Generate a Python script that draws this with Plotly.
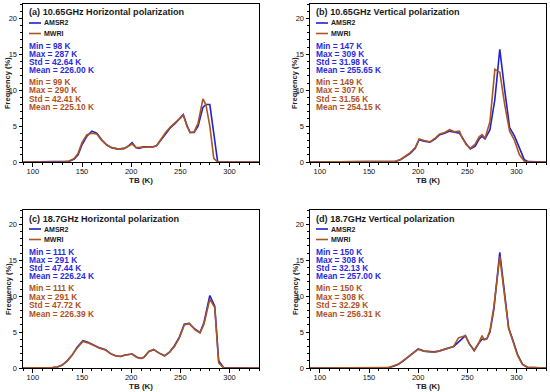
import plotly.graph_objects as go

# ---------------- data ----------------
tb_a = [90, 130, 137, 142, 146, 150, 155, 160, 165, 170, 175, 180, 187, 193, 197, 201, 205, 208, 212,
        217, 222, 226, 230, 235, 240, 245, 249, 253, 257, 260, 264, 268, 273, 276, 280, 284, 288, 330]
amsr2_a = [0, 0, 0.1, 0.4, 1.0, 2.4, 3.6, 4.3, 4.0, 3.1, 2.4, 2.0, 1.8, 1.9, 2.2, 2.7, 2.0, 1.9, 2.1,
           2.1, 2.1, 2.3, 3.0, 4.0, 4.8, 5.4, 6.0, 6.6, 5.0, 4.1, 4.1, 5.0, 7.6, 8.0, 8.0, 4.0, 0, 0]
mwri_a = [0, 0, 0.15, 0.5, 1.2, 2.7, 3.8, 4.0, 3.9, 3.0, 2.4, 2.0, 1.8, 1.9, 2.2, 2.5, 2.0, 2.0, 2.1,
          2.1, 2.1, 2.3, 3.1, 4.1, 4.9, 5.5, 6.1, 6.5, 4.9, 4.1, 4.2, 5.4, 8.8, 8.0, 5.0, 0.5, 0, 0]

tb_b = [90, 172, 177, 182, 187, 192, 197, 201, 206, 212, 217, 222, 227, 232, 237, 242, 245, 249, 253,
        258, 262, 265, 268, 273, 278, 283, 288, 293, 298, 303, 308, 312, 330]
amsr2_b = [0, 0, 0.1, 0.3, 0.7, 1.2, 1.9, 3.1, 2.9, 2.75, 3.2, 3.8, 4.0, 4.3, 4.15, 4.0, 3.4, 2.5, 1.8,
           2.2, 3.2, 3.6, 3.2, 4.5, 8.7, 15.7, 10.0, 4.8, 3.6, 1.9, 0.3, 0.05, 0]
mwri_b = [0, 0, 0.1, 0.35, 0.8, 1.3, 2.0, 3.2, 3.0, 2.8, 3.3, 3.9, 4.1, 4.5, 4.2, 4.3, 3.3, 2.4, 1.9,
          2.5, 3.5, 3.8, 3.3, 5.6, 12.9, 12.5, 8.0, 4.3, 3.0, 1.0, 0.1, 0, 0]

tb_c = [90, 115, 120, 125, 130, 135, 140, 145, 151, 156, 163, 168, 174, 179, 184, 189, 194, 201, 206,
        210, 213, 218, 223, 228, 234, 239, 244, 249, 254, 259, 265, 270, 274, 280, 285, 289, 294, 330]
amsr2_c = [0, 0, 0.05, 0.15, 0.4, 1.0, 1.8, 2.9, 3.8, 3.6, 3.1, 2.8, 2.55, 2.0, 1.7, 1.6, 1.8, 1.95, 1.5,
           1.35, 1.5, 2.3, 2.55, 2.1, 1.7, 2.2, 3.1, 4.3, 6.1, 6.2, 5.4, 4.95, 6.3, 10.1, 8.6, 1.0, 0.05, 0]
mwri_c = [0, 0, 0.05, 0.15, 0.45, 1.0, 1.8, 2.8, 3.7, 3.5, 3.0, 2.75, 2.5, 2.0, 1.7, 1.6, 1.8, 1.95, 1.45,
          1.35, 1.5, 2.3, 2.6, 2.1, 1.7, 2.2, 3.0, 4.2, 6.0, 6.2, 5.3, 4.9, 6.1, 9.6, 8.4, 0.7, 0.02, 0]

tb_d = [90, 165, 170, 175, 180, 185, 190, 195, 200, 206, 211, 216, 221, 226, 231, 236, 241, 246, 248,
        252, 257, 262, 265, 267, 270, 273, 277, 283, 288, 292, 296, 301, 306, 311, 330]
amsr2_d = [0, 0, 0.05, 0.25, 0.5, 1.0, 1.55, 2.05, 2.65, 2.35, 2.3, 2.25, 2.35, 2.6, 2.8, 3.0, 3.6, 4.3, 4.5,
           3.4, 2.4, 3.5, 4.0, 4.0, 4.1, 5.0, 8.2, 16.1, 10.0, 5.6, 4.0, 1.9, 0.55, 0.1, 0]
mwri_d = [0, 0, 0.05, 0.3, 0.55, 1.05, 1.6, 2.1, 2.6, 2.35, 2.3, 2.2, 2.35, 2.6, 2.8, 3.0, 4.2, 4.4, 4.5,
          3.35, 2.5, 3.6, 4.5, 3.9, 4.1, 5.2, 8.5, 15.5, 9.5, 5.5, 3.9, 1.8, 0.5, 0.1, 0]

panel_titles = ["(a) 10.65GHz Horizontal polarization", "(b) 10.65GHz Vertical polarization",
                "(c) 18.7GHz Horizontal polarization", "(d) 18.7GHz Vertical polarization"]
series_names = ["AMSR2", "MWRI"]

amsr2_min = ["98", "147", "111", "150"]
amsr2_max = ["287", "309", "291", "308"]
amsr2_std = ["42.64", "31.98", "47.44", "32.13"]
amsr2_mean = ["226.00", "255.65", "226.24", "257.00"]
mwri_min = ["99", "149", "111", "150"]
mwri_max = ["290", "307", "291", "308"]
mwri_std = ["42.41", "31.56", "47.72", "32.29"]
mwri_mean = ["225.10", "254.15", "226.39", "256.31"]

x_ticks = [100, 150, 200, 250, 300]
y_ticks = [0, 5, 10, 15, 20]

# ---------------- style ----------------
W, H = 550, 392
C_AMSR2 = "#2020d4"
C_MWRI = "#a9561f"
C_TXT_A = "#2a2ae0"
C_TXT_M = "#b0501e"
FONT = "Liberation Sans, Arial, sans-serif"

# pixel boxes: (left, right, top, bottom)
boxes = [(23, 259, 4, 162), (310, 546, 4, 162), (23, 259, 210, 368), (310, 546, 210, 368)]

tbs = [tb_a, tb_b, tb_c, tb_d]
amsr2 = [amsr2_a, amsr2_b, amsr2_c, amsr2_d]
mwri = [mwri_a, mwri_b, mwri_c, mwri_d]

fig = go.Figure()
annotations = []
shapes = []

for i in range(4):
    L, R, T, B = boxes[i]
    pw, ph = R - L, B - T
    xa = f"x{i+1}" if i else "x"
    ya = f"y{i+1}" if i else "y"
    fig.add_trace(go.Scatter(x=tbs[i], y=amsr2[i], mode="lines", name=series_names[0],
                             line=dict(color=C_AMSR2, width=1.6), xaxis=xa, yaxis=ya, showlegend=False))
    fig.add_trace(go.Scatter(x=tbs[i], y=mwri[i], mode="lines", name=series_names[1],
                             line=dict(color=C_MWRI, width=1.6), xaxis=xa, yaxis=ya, showlegend=False))

    xd = [L / W, R / W]
    yd = [1 - B / H, 1 - T / H]
    common = dict(showgrid=False, zeroline=False, linecolor="black", linewidth=1, automargin=False,
                  tickcolor="black", tickwidth=1, tickfont=dict(family=FONT, size=7.5, color="#111"))
    fig.layout[f"xaxis{i+1}"] = dict(domain=xd, range=[90, 330], anchor=ya, showline=True, mirror=True,
                                     tickvals=x_ticks, ticks="outside", ticklen=3.5, ticklabelstandoff=-2,
                                     minor=dict(dtick=10, tick0=0, ticks="outside", ticklen=2, tickcolor="black"),
                                     **common)
    fig.layout[f"yaxis{i+1}"] = dict(domain=yd, range=[0, 22], anchor=xa, showline=True, mirror=True,
                                     tickvals=y_ticks, ticks="outside", ticklen=3.5,
                                     minor=dict(dtick=1, tick0=0, ticks="outside", ticklen=2, tickcolor="black"),
                                     **common)
    # inside ticks on the top and right borders
    fig.layout[f"xaxis{i+5}"] = dict(overlaying=xa, side="top", anchor=ya, range=[90, 330], automargin=False,
                                     showline=False, showgrid=False, zeroline=False, showticklabels=False,
                                     tickvals=x_ticks, ticks="inside", ticklen=3.5, tickcolor="black",
                                     minor=dict(dtick=10, tick0=0, ticks="inside", ticklen=2, tickcolor="black"))
    fig.layout[f"yaxis{i+5}"] = dict(overlaying=ya, side="right", anchor=xa, range=[0, 22], automargin=False,
                                     showline=False, showgrid=False, zeroline=False, showticklabels=False,
                                     tickvals=y_ticks, ticks="inside", ticklen=3.5, tickcolor="black",
                                     minor=dict(dtick=1, tick0=0, ticks="inside", ticklen=2, tickcolor="black"))

    xr, yr = f"{xa} domain", f"{ya} domain"

    def yy(px):
        return 1 - px / ph

    def ann(text, xpx, ypx, color, size=8.4, bold=True, box_h=None):
        a = dict(text=f"<b>{text}</b>" if bold else text, x=xpx / pw, y=yy(ypx),
                 xref=xr, yref=yr, xanchor="left", yanchor="middle", showarrow=False,
                 borderpad=0, font=dict(family=FONT, size=size, color=color))
        if box_h:
            a["height"] = box_h
            a["valign"] = "middle"
        annotations.append(a)

    ann(panel_titles[i], 4.5, 8.5, "#1a1a1a", size=9.1)
    for k, (nm, col, ly) in enumerate([(series_names[0], C_AMSR2, 19), (series_names[1], C_MWRI, 29.5)]):
        shapes.append(dict(type="line", xref=xr, yref=yr, x0=6 / pw, x1=18 / pw, y0=yy(ly), y1=yy(ly),
                           line=dict(color=col, width=1.6)))
        ann(nm, 20, ly, "#1a1a1a", size=7.0)
    lines_a = [f"Min = {amsr2_min[i]} K", f"Max = {amsr2_max[i]} K",
               f"Std = {amsr2_std[i]} K", f"Mean = {amsr2_mean[i]} K"]
    lines_m = [f"Min = {mwri_min[i]} K", f"Max = {mwri_max[i]} K",
               f"Std = {mwri_std[i]} K", f"Mean = {mwri_mean[i]} K"]
    for k, t in enumerate(lines_a):
        ann(t, 4.5, 41.5 + 8.3 * k, C_TXT_A, box_h=8)
    for k, t in enumerate(lines_m):
        ann(t, 4.5, 78 + 8.5 * k, C_TXT_M, box_h=8)

    # axis titles
    annotations.append(dict(text="<b>TB (K)</b>", x=0.5, y=-18.5 / ph, xref=xr, yref=yr,
                            xanchor="center", yanchor="middle", showarrow=False,
                            font=dict(family=FONT, size=8, color="#222")))
    annotations.append(dict(text="<b>Frequency (%)</b>", x=-15 / pw, y=0.5, xref=xr, yref=yr,
                            xanchor="center", yanchor="middle", textangle=-90, showarrow=False,
                            font=dict(family=FONT, size=7.5, color="#222")))

fig.update_layout(width=W, height=H, margin=dict(l=0, r=0, t=0, b=0),
                  paper_bgcolor="white", plot_bgcolor="white",
                  annotations=annotations, shapes=shapes, showlegend=False,
                  font=dict(family=FONT))
fig.write_html("out.html", config={"displayModeBar": False},
               post_script="document.body.style.margin='0';document.body.style.overflow='hidden';")
